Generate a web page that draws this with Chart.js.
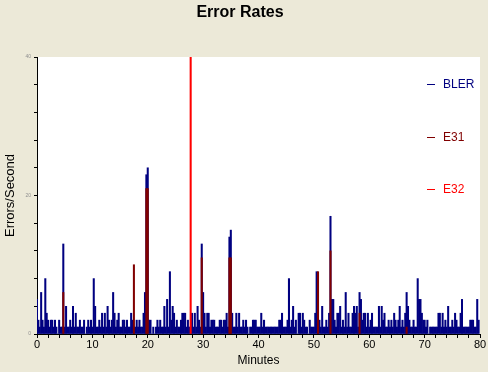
<!DOCTYPE html>
<html>
<head>
<meta charset="utf-8">
<script src="https://cdn.jsdelivr.net/npm/chart.js@4.4.0/dist/chart.umd.min.js"></script>
<style>
  html, body { margin: 0; padding: 0; background: #ECE9D8; }
  canvas { display: block; }
</style>
</head>
<body>
<canvas id="errChart" width="488" height="372"></canvas>
<script>
// BLER, one sample every 0.25 min from minute 0 (each row = 5 minutes)
const sampleStep = 0.25;
const blerValues = [
  5,2,1,6,2,1,8,3,2,1,2,2,1,2,1,0,2,1,1,13,
  1,4,1,1,2,1,4,1,3,1,1,2,1,1,2,0,1,2,1,2,
  1,8,4,1,1,2,1,3,1,3,1,4,2,1,2,6,3,1,2,3,
  1,1,2,2,1,2,1,1,3,2,1,1,2,1,2,1,1,3,6,23,
  24,2,2,0,1,0,1,2,1,2,1,1,4,1,5,1,9,2,4,3,
  1,2,1,1,2,3,3,3,1,2,1,1,3,1,3,1,4,2,1,13,
  6,3,1,3,3,1,2,2,2,1,1,1,2,2,1,2,2,3,1,14,
  15,3,1,1,3,1,3,1,1,2,1,2,1,0,1,1,2,2,2,1,
  1,1,3,1,2,1,1,1,1,1,1,1,1,1,1,2,2,3,1,1,
  1,2,8,1,2,4,1,2,0,3,3,1,3,2,1,1,0,2,1,1,
  1,3,9,2,2,1,4,1,1,2,1,3,17,5,5,2,1,3,3,4,
  1,2,1,6,1,3,1,1,3,4,3,4,1,6,5,2,3,3,1,3,
  1,2,3,1,1,1,1,4,1,4,2,3,1,1,2,1,2,1,3,2,
  1,2,4,1,2,1,3,6,4,2,1,1,2,1,1,8,5,5,3,2,
  2,1,2,0,1,1,1,1,1,1,3,3,1,3,1,2,1,4,1,1,
  2,1,3,2,1,1,3,5,1,1,1,1,1,2,2,2,1,1,5,2
];

// E31 / E32 events (minute, errors/second)
const e31Minutes = [4.75, 17.5, 19.75, 20, 29.75, 34.75, 35, 50.75, 53, 58.25, 66.75];
const e31Values = [6, 10, 21, 21, 11, 11, 11, 9, 12, 3, 1];
const e32Minutes = [27.75];
const e32Values = [40];

const seriesNames = ["BLER", "E31", "E32"];
const seriesColors = ["#000080", "#800000", "#FF0000"];
const xTickLabels = [0, 10, 20, 30, 40, 50, 60, 70, 80];
const yTickLabels = [0, 20, 40];

const blerPoints = blerValues.map((v, i) => ({ x: i * sampleStep, y: v }));
const e31Points = e31Minutes.map((m, i) => ({ x: m, y: e31Values[i] }));
const e32Points = e32Minutes.map((m, i) => ({ x: m, y: e32Values[i] }));

// white plot area on the beige page
const plotBackground = {
  id: "plotBackground",
  beforeDraw(chart) {
    const a = chart.chartArea;
    const ctx = chart.ctx;
    ctx.save();
    ctx.fillStyle = "#FFFFFF";
    ctx.fillRect(a.left, a.top, a.right - a.left, a.bottom - a.top);
    ctx.restore();
  }
};

// legend drawn inside the plot, right side, spread vertically
const sideLegend = {
  id: "sideLegend",
  afterDraw(chart) {
    const ctx = chart.ctx;
    const rows = [84, 137, 189];
    ctx.save();
    ctx.font = "12px 'Liberation Sans', Arial, sans-serif";
    ctx.textBaseline = "middle";
    ctx.textAlign = "left";
    chart.data.datasets.forEach((ds, i) => {
      const y = rows[i];
      ctx.strokeStyle = ds.backgroundColor;
      ctx.lineWidth = 1;
      ctx.beginPath();
      ctx.moveTo(427, y + 0.5);
      ctx.lineTo(435, y + 0.5);
      ctx.stroke();
      ctx.fillStyle = ds.backgroundColor;
      ctx.fillText(ds.label, 443, y + 1);
    });
    ctx.restore();
  }
};

function barSet(i, pts, order) {
  return {
    label: seriesNames[i],
    data: pts,
    backgroundColor: seriesColors[i],
    borderWidth: 0,
    grouped: false,
    barPercentage: 1,
    categoryPercentage: 1,
    order: order
  };
}

const ctx = document.getElementById("errChart").getContext("2d");
const errChart = new Chart(ctx, {
  type: "bar",
  data: {
    datasets: [
      barSet(0, blerPoints, 2),
      barSet(1, e31Points, 1),
      barSet(2, e32Points, 0)
    ]
  },
  options: {
    responsive: false,
    devicePixelRatio: 1,
    animation: false,
    layout: { padding: { left: 0, right: 8, top: 0, bottom: 0 } },
    plugins: {
      legend: { display: false },
      tooltip: { enabled: false },
      title: {
        display: true,
        text: "Error Rates",
        color: "#000",
        font: { family: "'Liberation Sans', Arial, sans-serif", size: 16, weight: "bold" },
        padding: { top: 3, bottom: 34.8 }
      }
    },
    scales: {
      x: {
        type: "linear",
        min: 0,
        max: 80,
        offset: false,
        grid: { offset: false, drawOnChartArea: false, color: "#000", tickLength: 4 },
        border: { color: "#000" },
        ticks: {
          stepSize: 2,
          autoSkip: false,
          maxRotation: 0,
          padding: 0,
          color: "#000",
          font: { family: "'Liberation Sans', Arial, sans-serif", size: 11 },
          callback: (v) => (xTickLabels.includes(v) ? String(v) : "")
        },
        title: {
          display: true,
          text: "Minutes",
          color: "#000",
          font: { family: "'Liberation Sans', Arial, sans-serif", size: 12 },
          padding: { top: 0, bottom: 4 }
        },
        afterFit: (scale) => { scale.height = 38; }
      },
      y: {
        min: 0,
        max: 40,
        grid: { drawOnChartArea: false, color: "#000", tickLength: 3 },
        border: { color: "#000" },
        ticks: {
          stepSize: 4,
          autoSkip: false,
          padding: 3,
          color: "#909090",
          font: { family: "'Liberation Sans', Arial, sans-serif", size: 5 },
          callback: (v) => (yTickLabels.includes(v) ? String(v) : "")
        },
        title: {
          display: true,
          text: "Errors/Second",
          color: "#000",
          font: { family: "'Liberation Sans', Arial, sans-serif", size: 13 },
          padding: { top: 3, bottom: 0 }
        },
        afterFit: (scale) => { scale.width = 37; }
      }
    }
  },
  plugins: [plotBackground, sideLegend]
});
</script>
</body>
</html>
